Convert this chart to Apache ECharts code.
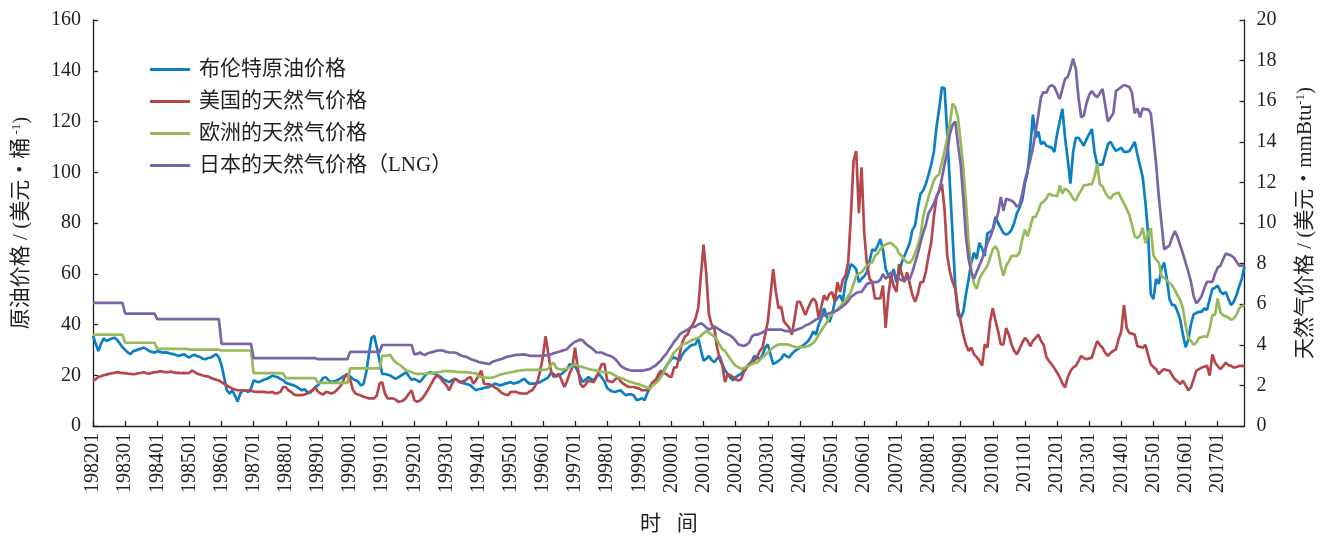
<!DOCTYPE html>
<html><head><meta charset="utf-8">
<script src="https://cdn.jsdelivr.net/npm/echarts@6/dist/echarts.min.js"></script>
<style>html,body{margin:0;padding:0;background:#fff}#c{width:1324px;height:540px}</style>
</head><body><div id="c"></div>
<script>
// Series names (legend)
const seriesNames = ['布伦特原油价格', '美国的天然气价格', '欧洲的天然气价格', '日本的天然气价格（LNG）'];
const seriesColors = ['#0a80c2', '#b5474b', '#96b95a', '#7b64a6'];

// Monthly categories 198201 ... 201711
const categories = [];
for (let y = 1982; y <= 2017; y++) {
  for (let mo = 1; mo <= 12; mo++) {
    if (y === 2017 && mo > 11) break;
    categories.push(String(y) + (mo < 10 ? '0' : '') + mo);
  }
}

// Tick values
const leftTicks = { min: 0, max: 160, interval: 20 };
const rightTicks = { min: 0, max: 20, interval: 2 };

// Brent crude ($/bbl, left axis), one row per ~year
const brent = [
35.5,32.5,29.5,32.5,34.5,33.5,34,34.5,34.8,34,32.5,31,
30,29,28.3,29.5,29.8,30.2,30.5,30.9,30.3,29.6,29.2,28.9,
29.5,29.2,28.9,29,28.9,28.5,28.3,28,27.6,28,28.3,27.5,
27,27.8,28,27.5,27.2,26.5,26.3,26.8,27,27.6,28.3,27,
24,19,14,12.8,14,12,9.6,12.8,14,14,13.4,14.7,
18,17.5,17.3,17.8,18.3,18.6,19.2,19.9,19.5,19.2,18.6,18,
17,16.7,16.3,16,15.5,14.7,14.1,14.5,13.4,13,14.1,15.4,
16,17.5,19,19.2,18,17.3,17.6,17.95,18.5,19.2,19.8,20.5,
19.5,18.6,18,17.5,16,16.5,21,28,34.7,35.5,31,25.7,
20.5,20.5,20.2,19.9,19.2,18.6,19.2,19.9,20.5,21.2,19.5,18.2,
18.6,18,17.3,18.5,19.9,20.8,21.2,20.8,20.5,19.8,19.2,18.2,
17.8,17.3,18,18.6,18.2,17.3,17,16.7,16.4,16,15,14.1,
14.5,14.7,15,15.2,15.4,16,16.7,16.4,16,16.3,16.7,17,17.3,
16.7,17,17.3,18,18.6,17.5,16.7,16.7,16.7,17,17.3,17.95,
18.5,19.2,21,20.5,19.5,20,20.5,21.5,22.5,24.4,23.5,23.8,
21.5,19,17.3,18.3,19.3,18.6,18,19.5,20.5,19,17.5,15,
14.1,13.6,13.4,13.8,14.1,13,12.1,12.5,12.5,12,10.2,10.5,
10.9,10.2,13,15,16.7,18,19.3,20,21.5,23.5,25,26.5,
27,26.5,25.7,28,29.6,30.5,31.5,32,32.2,34.7,30,25.7,
26.5,27.6,26,25.1,26.5,27.6,24.4,22,20.5,19,18,19.3,
20,20.5,22,23.1,24.4,25.5,27.6,27,26.3,28,30.9,32.2,
28,24.4,25,25.7,26.5,28.3,27.5,27,28.5,29.5,30.2,31,
31.5,32.5,33.4,35,37.3,36,40,42.5,46.4,43,41,44,
49,50.5,51.5,49,56.7,60,63.8,63,61.8,56.7,58,59,
60.6,65,69.6,69,71,73.7,69.6,62,59.3,58,61.8,56.7,
60,64.4,67,69.6,72.2,77.3,79,86,91.5,92.8,95.4,99,
103,108,118,125,133.5,133,115,95,75,55,43.8,42.5,
45,52,58,64.4,68.3,65.8,72.2,70,67,76,76.5,77.3,
82.5,80,78,76,75.4,76,77.3,80,83.8,86,89,95.5,
100,110,122.7,113.6,116,111,112,110.5,110,109.7,108,115,
120,125,113.6,105,95.5,108,113.6,113.6,112,110.5,113,115,
117,108,103,103,103,107,111,112,110,108.4,109,109.7,
108,108,108.4,110,112,107,102.5,98,88,76,52,50,
58,56,62,64.4,58,50,47.6,47.6,45,42,36,31,
34,40,44,44.5,45,45,46.4,45.7,50,54,54.5,55.4,
53,52,52.8,50,47.6,49,51.5,55,58,63
];

// US natural gas ($/mmBtu, right axis)
const usGas = [
2.24,2.3,2.41,2.45,2.5,2.53,2.57,2.6,2.62,2.65,2.63,2.6,
2.6,2.58,2.57,2.55,2.57,2.6,2.62,2.65,2.6,2.58,2.62,2.65,
2.65,2.7,2.68,2.65,2.65,2.68,2.65,2.62,2.62,2.6,2.62,2.6,
2.62,2.73,2.65,2.57,2.53,2.49,2.46,2.44,2.38,2.32,2.28,2.24,
2.16,2.08,2,1.92,1.84,1.8,1.76,1.76,1.76,1.75,1.74,1.73,
1.7,1.68,1.68,1.68,1.68,1.66,1.65,1.68,1.6,1.62,1.68,1.92,
1.92,1.75,1.68,1.55,1.52,1.52,1.52,1.55,1.6,1.7,1.76,1.89,
1.7,1.6,1.55,1.68,1.65,1.6,1.65,1.76,1.9,2.08,2.41,2.57,
2.3,1.8,1.6,1.55,1.5,1.44,1.4,1.36,1.36,1.36,1.5,2.08,
2.16,1.6,1.36,1.36,1.36,1.3,1.19,1.22,1.27,1.4,1.6,1.76,
1.27,1.19,1.25,1.36,1.55,1.76,2,2.24,2.45,2.45,2.32,2.15,
2,1.76,2.05,2.32,2.25,2.16,2.2,2.24,2.35,2.41,2.08,2.25,
2.5,2.73,2.08,2.06,2.05,2,1.9,1.84,1.7,1.6,1.55,1.52,1.68,
1.68,1.68,1.62,1.6,1.6,1.6,1.7,1.76,1.95,2.2,2.73,3.4,
4.42,3.6,2.73,2.41,2.5,2.57,2.24,1.92,2.2,2.6,2.89,3.86,
2.89,2.08,1.92,2.05,2.24,2.2,2.16,2.4,2.73,3.05,3.05,2.24,
2.2,2.16,2.3,2.4,2.2,2.08,2,1.92,1.92,1.92,1.88,1.84,
1.76,1.76,1.76,1.95,2.16,2.24,2.5,2.73,2.6,2.57,2.45,2.41,
2.89,2.89,3.5,4.1,4.4,4.5,4.83,5,5.3,5.8,7.41,8.94,
7.5,5.5,5,4.83,3.9,3.3,3,2.16,2.57,2.5,2.41,2.3,
2.24,2.3,2.65,2.85,3.05,3.15,3.21,3.4,3.7,3.86,4.5,5.15,
6.44,7.73,6.6,5.8,5.88,5.15,4.99,4.83,4.5,5.3,6.12,6.12,
5.8,5.47,5.8,6.1,6.28,6.12,5.31,5.9,6.44,6.2,6.5,6.6,
6.12,7.09,6.6,7.2,7.41,8.05,10.3,13.06,13.54,10.48,12.74,9.5,
8,7.25,7.09,6.28,6.28,6.28,6.92,4.83,6.44,7.41,6.9,6.6,
7.97,7.5,7.09,7.57,7,6.44,6.12,6.5,7.09,7.09,7.6,8.38,
9.02,10.3,11.28,11.6,11.93,10.64,8.38,7.6,7.09,6.76,5.8,5.15,
4.5,4,3.7,3.86,3.53,3.4,3.21,2.97,4.02,3.86,5.15,5.8,
5.2,4.66,4.02,4.02,4.83,4.5,4.02,3.7,3.53,3.8,4.1,4.34,
4.2,3.93,4.2,4.34,4.5,4.2,4,3.4,3.2,3.04,2.85,2.64,
2.4,2.1,1.9,2.4,2.7,2.88,2.96,3.2,3.45,3.35,3.29,3.33,
3.37,3.8,4.18,4,3.85,3.6,3.45,3.6,3.7,3.78,4.3,4.67,
5.95,4.83,4.58,4.55,4.5,3.93,3.9,3.85,4,3.5,3.04,2.9,
2.8,2.56,2.7,2.8,2.75,2.72,2.5,2.3,2.2,2.07,2.23,2,
1.75,1.9,2.3,2.72,2.8,2.88,2.92,2.96,2.48,3.53,3.13,2.95,
2.8,2.95,3.13,3,2.96,2.88,2.9,2.96,2.96,2.96
];

// European natural gas ($/mmBtu, right axis)
const euGas = [
4.5,4.5,4.5,4.5,4.5,4.5,4.5,4.5,4.5,4.5,4.5,4.5,
4.1,4.1,4.1,4.1,4.1,4.1,4.1,4.1,4.1,4.1,4.1,4.1,
3.8,3.8,3.8,3.8,3.8,3.8,3.8,3.8,3.8,3.8,3.8,3.8,
3.76,3.76,3.76,3.76,3.76,3.76,3.76,3.76,3.76,3.76,3.76,3.76,
3.72,3.72,3.72,3.72,3.72,3.72,3.72,3.72,3.72,3.72,3.72,3.72,
2.6,2.6,2.6,2.6,2.6,2.6,2.6,2.6,2.6,2.6,2.6,2.6,
2.36,2.36,2.36,2.36,2.36,2.36,2.36,2.36,2.36,2.36,2.36,2.36,
2.12,2.12,2.12,2.12,2.12,2.12,2.12,2.12,2.12,2.12,2.12,2.12,
2.84,2.84,2.84,2.84,2.84,2.84,2.84,2.84,2.84,2.84,2.84,2.84,
3.45,3.45,3.48,3.5,3.29,3.13,3.05,2.97,2.85,2.73,2.7,2.65,
2.6,2.57,2.57,2.57,2.57,2.58,2.6,2.62,2.64,2.65,2.67,2.7,
2.7,2.7,2.7,2.68,2.66,2.65,2.65,2.65,2.64,2.62,2.6,2.6,
2.45,2.41,2.39,2.38,2.37,2.39,2.41,2.47,2.53,2.56,2.6,2.62,2.65,
2.67,2.7,2.72,2.74,2.76,2.76,2.76,2.76,2.76,2.76,2.76,2.76,
2.78,2.81,3,3.13,2.85,2.81,2.78,2.8,2.85,2.89,2.97,3.05,
2.97,2.93,2.89,2.85,2.81,2.78,2.75,2.73,2.7,2.67,2.65,2.65,
2.62,2.56,2.49,2.42,2.36,2.33,2.25,2.2,2.16,2.12,2.08,2.05,
2,1.95,1.9,1.84,2,2.1,2.2,2.4,2.6,2.9,3.15,3.4,
3.62,3.75,3.86,4.02,4.05,4.1,4.18,4.26,4.3,4.34,4.45,4.58,
4.67,4.6,4.5,4.4,4.26,4,3.78,3.7,3.5,3.3,3.1,2.97,
2.9,2.81,2.85,2.89,2.97,3.05,3.1,3.13,3.25,3.38,3.5,3.62,
3.75,3.86,3.95,4.02,4.02,4.02,4.02,4,3.94,3.9,3.86,3.9,
3.88,3.9,3.94,4,4.1,4.25,4.5,4.7,4.9,5.1,5.39,5.5,
5.63,5.75,5.88,6.05,6.2,6.4,6.6,7,7.41,7.5,7.57,7.75,
7.89,8,8.05,8.38,8.5,8.7,8.85,8.94,9,9.02,8.9,8.78,
8.5,8.38,8.2,8.05,8.05,8.2,8.54,8.9,9.35,10.3,10.8,11.28,
11.7,12.1,12.3,12.4,13,13.54,14.2,14.9,15.88,15.7,15.2,14,
12.74,11,9,7.6,7,6.76,7.25,7.5,7.7,7.89,8.3,8.7,
8.86,8.6,7.9,7.41,7.89,8.1,8.38,8.38,8.38,8.54,9.2,9.67,
9.35,9.8,10.3,10.3,10.6,10.97,11.05,11.2,11.45,11.37,11.35,11.3,
11.85,11.45,11.7,11.6,11.45,11.2,11.1,11.4,11.6,11.85,11.87,11.9,
11.9,12.3,12.9,11.9,11.8,11.5,11.3,11.2,11.4,11.45,11.5,11.2,
10.97,10.7,10.4,9.9,9.35,9.25,9.4,9.75,9,9.5,9.75,8.4,
8.2,8.05,7.4,7.3,7.17,7.05,6.92,6.7,6.44,6.2,5.8,4.98,
4.34,4.2,4,4.1,4.34,4.38,4.42,4.38,4.8,5.47,5.47,6.28,
5.6,5.45,5.4,5.35,5.23,5.3,5.47,5.8,5.9,5.95
];

// Japan LNG ($/mmBtu, right axis)
const jpLng = [
6.07,6.07,6.07,6.07,6.07,6.07,6.07,6.07,6.07,6.07,6.07,6.07,
5.54,5.54,5.54,5.54,5.54,5.54,5.54,5.54,5.54,5.54,5.54,5.54,
5.26,5.26,5.26,5.26,5.26,5.26,5.26,5.26,5.26,5.26,5.26,5.26,
5.26,5.26,5.26,5.26,5.26,5.26,5.26,5.26,5.26,5.26,5.26,5.26,
4.05,4.05,4.05,4.05,4.05,4.05,4.05,4.05,4.05,4.05,4.05,4.05,
3.34,3.34,3.34,3.34,3.34,3.34,3.34,3.34,3.34,3.34,3.34,3.34,
3.34,3.34,3.34,3.34,3.34,3.34,3.34,3.34,3.34,3.34,3.34,3.34,
3.29,3.29,3.29,3.29,3.29,3.29,3.29,3.29,3.29,3.29,3.29,3.29,
3.65,3.65,3.65,3.65,3.65,3.65,3.65,3.65,3.65,3.65,3.65,3.65,
3.99,3.99,3.99,3.99,3.99,3.99,3.99,3.99,3.99,3.99,3.99,3.99,
3.53,3.55,3.62,3.55,3.5,3.58,3.62,3.65,3.7,3.72,3.73,3.7,
3.65,3.62,3.62,3.62,3.58,3.5,3.45,3.42,3.37,3.3,3.25,3.21,
3.15,3.13,3.1,3.08,3.05,3.15,3.2,3.24,3.28,3.33,3.38,3.42,3.45,
3.48,3.5,3.5,3.52,3.53,3.5,3.47,3.45,3.45,3.45,3.45,3.45,
3.48,3.5,3.53,3.58,3.62,3.66,3.7,3.74,3.78,3.94,4.05,4.15,
4.2,4.26,4.2,4.05,3.95,3.86,3.75,3.62,3.62,3.62,3.55,3.5,
3.46,3.4,3.3,3.15,2.97,2.88,2.81,2.77,2.73,2.73,2.73,2.73,
2.73,2.75,2.78,2.81,2.9,2.97,3.1,3.21,3.4,3.54,3.75,3.94,
4.15,4.3,4.5,4.6,4.67,4.75,4.83,4.88,4.91,5,5.07,4.98,
4.85,4.75,4.82,4.91,4.82,4.75,4.65,4.58,4.52,4.45,4.35,4.2,
4.02,3.98,3.94,4,4.1,4.4,4.5,4.5,4.55,4.6,4.7,4.75,
4.75,4.75,4.75,4.75,4.75,4.7,4.67,4.67,4.67,4.7,4.75,4.8,
4.85,4.95,5,5.07,5.15,5.25,5.3,5.39,5.45,5.5,5.55,5.6,
5.65,5.7,5.8,5.9,6,6.15,6.36,6.45,6.55,6.6,6.6,6.8,
7,7.05,7.09,7.09,7.09,7.2,7.49,7.25,7.4,7.57,7.45,7.41,
7.25,7.17,7.2,7.25,7.25,7.6,8.05,8.5,9.02,9.5,9.9,10.48,
10.7,10.96,11.3,11.6,12.2,12.9,13.5,14.4,14.83,15,13.87,12.9,
11.2,9.3,8.2,7.57,7.25,7.6,7.9,8.22,8.6,9.02,9.3,9.67,
10.1,10.48,11.28,10.6,11.2,11.15,11.1,11,10.8,10.9,11.44,12.1,
12.6,13.1,13.7,14.5,15.3,16.2,16.46,16.4,16.7,16.8,16.7,16.4,
16.1,16.6,17.1,17.2,17.6,18.1,17.6,16.2,15.2,15.3,15.9,16.3,
16.5,16.3,16.2,16.4,16.6,15.8,15,15.2,15.4,16.5,16.6,16.7,
16.8,16.75,16.7,16.4,15.4,15.65,15.2,15.65,15.6,15.6,15.4,14.2,
12.9,11.3,10,8.7,8.8,8.9,9.3,9.6,9.3,8.9,8.5,8.05,
7.6,7.1,6.4,6.04,6.2,6.4,6.8,7.1,7.1,7.1,7.5,7.8,
7.9,8.2,8.5,8.45,8.4,8.3,8.1,7.9,7.9,7.9
];

const leftName = '原油价格 / (美元・桶{sup| -1})';
const rightName = '天然气价格 / (美元・mmBtu{sup|-1})';
const xName = '时\u2002 间';

const TXT = '#231f20';
const SERIF = "'Liberation Serif', 'Times New Roman', serif";
const MIXED = "'Liberation Serif', 'Noto Sans CJK SC', serif";

const isJan = (idx, val) => String(val).slice(4) === '01';

const chart = echarts.init(document.getElementById('c'), null, { renderer: 'canvas' });
const axisLine = { show: true, lineStyle: { color: TXT, width: 1.3 } };
const axisTick = { show: true, inside: true, length: 5, lineStyle: { color: TXT, width: 1.3 } };
const nameRich = { sup: { fontSize: 13, verticalAlign: 'top', fontFamily: SERIF, color: TXT, padding: [0, 0, 9, 0] } };

const option = {
  animation: false,
  backgroundColor: '#ffffff',
  grid: { left: 93, right: 71, top: 20, bottom: 107, containLabel: false },
  legend: {
    orient: 'vertical', left: 145, top: 54,
    icon: 'rect', itemWidth: 40, itemHeight: 3, itemGap: 11,
    textStyle: { fontFamily: MIXED, fontSize: 21, color: TXT, lineHeight: 21, padding: [0, 0, 0, 4] },
    data: seriesNames
  },
  xAxis: {
    type: 'category', data: categories, boundaryGap: false,
    name: xName, nameLocation: 'middle', nameGap: 88,
    nameTextStyle: { fontFamily: MIXED, fontSize: 21, color: TXT },
    axisLine: axisLine,
    axisTick: Object.assign({}, axisTick, { interval: isJan }),
    axisLabel: { interval: isJan, rotate: 90, margin: 7, fontFamily: SERIF, fontSize: 20, color: TXT },
    splitLine: { show: false }
  },
  yAxis: [
    {
      type: 'value', min: leftTicks.min, max: leftTicks.max, interval: leftTicks.interval,
      name: leftName, nameLocation: 'middle', nameGap: 61, nameRotate: 90,
      nameTextStyle: { fontFamily: MIXED, fontSize: 21, color: TXT, rich: nameRich },
      axisLine: axisLine, axisTick: axisTick,
      axisLabel: { margin: 12, fontFamily: SERIF, fontSize: 20, color: TXT },
      splitLine: { show: false }
    },
    {
      type: 'value', position: 'right', min: rightTicks.min, max: rightTicks.max, interval: rightTicks.interval,
      name: rightName, nameLocation: 'middle', nameGap: 50, nameRotate: 90,
      nameTextStyle: { fontFamily: MIXED, fontSize: 21, color: TXT, rich: nameRich },
      axisLine: axisLine, axisTick: axisTick,
      axisLabel: { margin: 12, fontFamily: SERIF, fontSize: 20, color: TXT },
      splitLine: { show: false }
    }
  ],
  series: [
    { name: seriesNames[0], type: 'line', yAxisIndex: 0, data: brent },
    { name: seriesNames[1], type: 'line', yAxisIndex: 1, data: usGas },
    { name: seriesNames[2], type: 'line', yAxisIndex: 1, data: euGas },
    { name: seriesNames[3], type: 'line', yAxisIndex: 1, data: jpLng }
  ].map((s, i) => Object.assign(s, {
    showSymbol: false, symbol: 'none', smooth: false,
    color: seriesColors[i],
    lineStyle: { color: seriesColors[i], width: 2.7 },
    emphasis: { disabled: true }
  }))
};
chart.setOption(option);
</script>
</body></html>
